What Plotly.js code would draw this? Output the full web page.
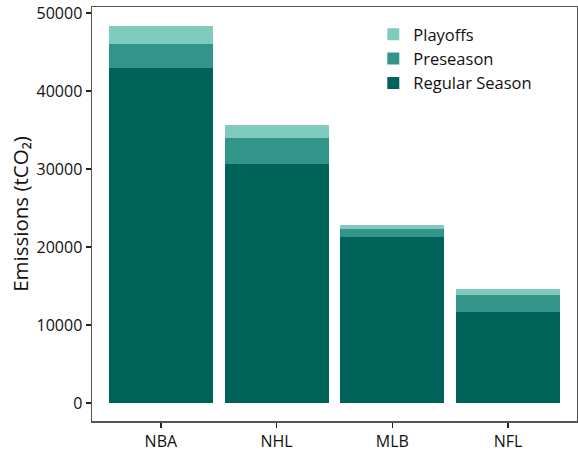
<!DOCTYPE html>
<html><head><meta charset="utf-8">
<script src="https://cdn.plot.ly/plotly-3.0.1.min.js"></script>
<style>html,body{margin:0;padding:0;background:#fff}</style>
</head><body><div id="chart" style="width:578px;height:451px"></div>
<script>
const leagues = ["NBA", "NHL", "MLB", "NFL"];
const regularSeason = [42950, 30580, 21280, 11710];
const preseason = [3120, 3430, 990, 2160];
const playoffs = [2280, 1650, 570, 760];
const yTicks = [0, 10000, 20000, 30000, 40000, 50000];

const traces = [
  {name: "Regular Season", y: regularSeason, color: "#00635a"},
  {name: "Preseason", y: preseason, color: "#339589"},
  {name: "Playoffs", y: playoffs, color: "#80cbbf"}
].map(t => ({
  type: "bar", x: leagues, y: t.y, name: t.name,
  marker: {color: t.color, line: {width: 0}}, width: 0.9,
  hoverinfo: "skip"
}));

const layout = {
  width: 578, height: 451,
  margin: {l: 92, r: 1, t: 7, b: 30},
  barmode: "stack",
  paper_bgcolor: "#fff", plot_bgcolor: "#fff",
  font: {family: "Open Sans, Noto Sans, sans-serif", size: 16, color: "#111"},
  showlegend: true,
  legend: {
    x: 0.58, y: 0.976, xanchor: "left", yanchor: "top",
    traceorder: "reversed", font: {size: 16.5, color: "#111"},
    bgcolor: "rgba(0,0,0,0)", itemwidth: 30, tracegroupgap: 0
  },
  xaxis: {
    type: "category", range: [-0.595, 3.595],
    showgrid: false, zeroline: false,
    showline: true, linecolor: "#555", linewidth: 1.5, mirror: true,
    ticks: "outside", ticklen: 5, tickwidth: 1.5, tickcolor: "#222",
    tickfont: {size: 16, color: "#111"}
  },
  yaxis: {
    range: [-2308, 50769], tickvals: yTicks,
    tickformat: "d", ticklabeloverflow: "allow",
    showgrid: false, zeroline: false,
    showline: true, linecolor: "#555", linewidth: 1.5, mirror: true,
    ticks: "outside", ticklen: 5, tickwidth: 1.5, tickcolor: "#222",
    tickfont: {size: 16, color: "#111"},
    title: {text: "Emissions (tCO\u2082)", font: {size: 20.5, color: "#111"}, standoff: 2}
  }
};
Plotly.newPlot("chart", traces, layout, {displayModeBar: false, staticPlot: true});
</script></body></html>
